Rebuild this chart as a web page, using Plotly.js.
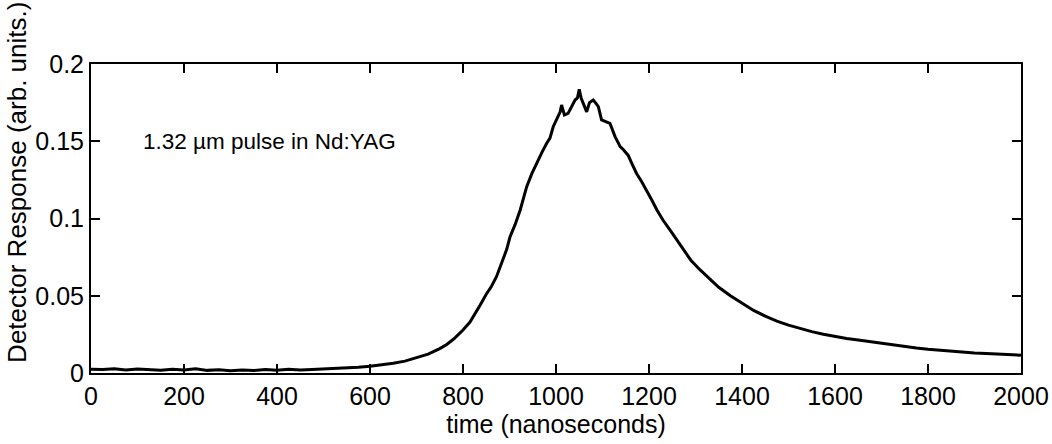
<!DOCTYPE html>
<html>
<head>
<meta charset="utf-8">
<script src="https://cdn.plot.ly/plotly-3.0.1.min.js"></script>
<style>html,body{margin:0;padding:0;background:#fff;}#chart{width:1052px;height:444px;}</style>
</head>
<body>
<div id="chart"></div>
<script>
// time in nanoseconds
var timeNs = [0,25,50,75,100,125,150,175,200,225,250,275,300,325,350,375,400,425,450,475,500,525,550,575,600,625,650,675,700,725,750,765,780,790,800,815,826,837,850,861,872,885,894,901,912,923,930,937,948,958,970,980,987,994,1002,1009,1012,1018,1026,1034,1041,1046,1050,1054,1059,1066,1072,1080,1086,1091,1098,1106,1116,1127,1138,1145,1155,1164,1173,1184,1195,1206,1217,1230,1245,1260,1274,1290,1310,1330,1350,1375,1400,1425,1450,1475,1500,1525,1550,1575,1600,1625,1650,1675,1700,1725,1750,1775,1800,1825,1850,1875,1900,1925,1950,1975,2000];
// detector response (arb. units)
var response = [0.0025,0.0022,0.0028,0.0019,0.0026,0.0021,0.0018,0.0024,0.0020,0.0027,0.0017,0.0021,0.0015,0.0019,0.0016,0.0022,0.0018,0.0024,0.0019,0.0023,0.0026,0.0029,0.0033,0.0038,0.0044,0.0052,0.0063,0.0077,0.0097,0.0122,0.0158,0.0185,0.0220,0.0246,0.0278,0.0330,0.0382,0.0440,0.0510,0.0560,0.0623,0.0720,0.0800,0.0880,0.0960,0.1055,0.1130,0.1206,0.1290,0.1357,0.1430,0.1487,0.1520,0.1594,0.1650,0.1690,0.1735,0.1670,0.1680,0.1725,0.1767,0.1780,0.1836,0.1780,0.1745,0.1690,0.1750,0.1767,0.1745,0.1724,0.1638,0.1630,0.1616,0.1530,0.1465,0.1445,0.1410,0.1350,0.1293,0.1240,0.1184,0.1120,0.1055,0.0990,0.0926,0.0860,0.0796,0.0730,0.0667,0.0610,0.0555,0.0500,0.0450,0.0405,0.0368,0.0336,0.0310,0.0288,0.0268,0.0251,0.0236,0.0223,0.0213,0.0202,0.0192,0.0181,0.0172,0.0162,0.0154,0.0147,0.0141,0.0136,0.0130,0.0126,0.0122,0.0118,0.0115];
var xTicks = [0,200,400,600,800,1000,1200,1400,1600,1800,2000];
var yTicks = [0,0.05,0.1,0.15,0.2];
var yTickText = ['0','0.05','0.1','0.15','0.2'];
var labelText = '1.32 \u00b5m pulse in Nd:YAG';
var xTitle = 'time (nanoseconds)';
var yTitle = 'Detector Response (arb. units.)';

var font = 'Liberation Sans, Arial, Helvetica, sans-serif';
var trace = {
  x: timeNs, y: response, type: 'scatter', mode: 'lines',
  line: {color: '#000', width: 3}, hoverinfo: 'skip'
};
var axisCommon = {
  showline: true, linecolor: '#000', linewidth: 2, mirror: 'ticks',
  ticks: 'inside', ticklen: 9, tickwidth: 2, tickcolor: '#000',
  showgrid: false, zeroline: false,
  tickfont: {family: font, size: 25, color: '#000'}
};
var layout = {
  width: 1052, height: 444,
  margin: {l: 91, r: 31, t: 64, b: 71},
  paper_bgcolor: '#fff', plot_bgcolor: '#fff',
  showlegend: false,
  font: {family: font, color: '#000'},
  xaxis: Object.assign({}, axisCommon, {
    range: [0, 2000], tickvals: xTicks, ticktext: xTicks.map(String),
    title: {text: xTitle, font: {family: font, size: 25, color: '#000'}, standoff: 0}
  }),
  yaxis: Object.assign({}, axisCommon, {
    range: [0, 0.2], tickvals: yTicks, ticktext: yTickText
  }),
  annotations: [
    {text: labelText, xref: 'x', yref: 'y', x: 107, y: 0.15, xanchor: 'left', yanchor: 'middle',
     showarrow: false, font: {family: font, size: 22.5, color: '#000'}},
    {text: yTitle, xref: 'paper', yref: 'paper', x: -0.079, y: 0.617, textangle: -90,
     xanchor: 'center', yanchor: 'middle', showarrow: false,
     font: {family: font, size: 26, color: '#000'}}
  ]
};
Plotly.newPlot('chart', [trace], layout, {staticPlot: true, displayModeBar: false});
</script>
</body>
</html>
